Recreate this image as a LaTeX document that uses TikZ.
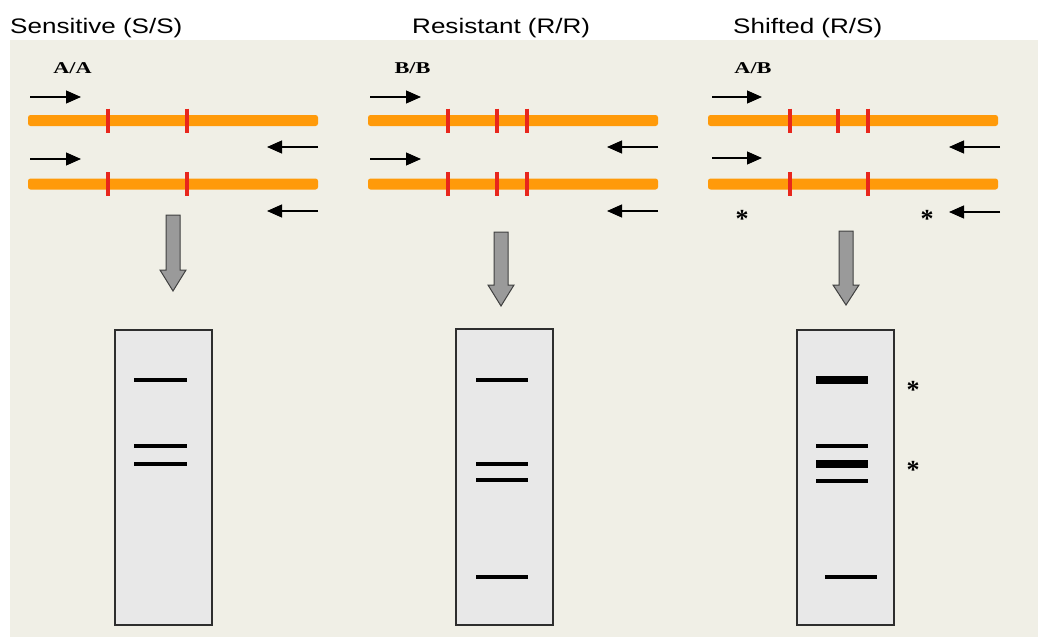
\documentclass[tikz,border=0pt]{standalone}
\usepackage{fontspec}
\setmainfont{Liberation Sans}
\newfontfamily\labelfont{Liberation Serif}
\usetikzlibrary{arrows.meta}
\definecolor{panelbg}{HTML}{F0EFE6}
\definecolor{strandorange}{HTML}{FF9A0A}
\definecolor{siteRed}{HTML}{E8261C}
\definecolor{gelfill}{HTML}{E8E8E8}
\definecolor{gelborder}{HTML}{2E2E2E}
\definecolor{blockgray}{HTML}{9A9A9A}
\tikzset{
  strand/.style={fill=strandorange, rounded corners=2.5pt},
  site/.style={draw=siteRed, line width=3.2pt},
  primer/.style={draw=black, line width=1.2pt, -{Triangle[length=15pt,width=13pt]}},
  blockarrow/.style={fill=blockgray, draw=black!75, line width=1pt, line join=miter},
  gel/.style={fill=gelfill, draw=gelborder, line width=2pt},
  band/.style={draw=black, line width=3.2pt},
  thickband/.style={draw=black, line width=8pt},
  title/.style={anchor=base west, inner sep=0pt, font=\fontsize{21}{25}\selectfont},
  genotype/.style={inner sep=0pt, font=\labelfont\bfseries\fontsize{16.5}{19}\selectfont},
  starmark/.style={anchor=base, inner sep=0pt, font=\labelfont\bfseries\fontsize{26}{28}\selectfont}
}
% one DNA strand with its cut sites: \dnastrand{y}{list of site x}
\newcommand{\dnastrand}[2]{%
  \fill[strand] (28,#1-5.5) rectangle (318,#1+5.5);
  \foreach \sx in {#2} {\draw[site] (\sx,#1-12) -- (\sx,#1+12);}
}
% block arrow pointing down: \blockdown{x}{top}{head start}{tip}
\newcommand{\blockdown}[4]{%
  \draw[blockarrow] (#1-7,#2) -- (#1+7,#2) -- (#1+7,#3) -- (#1+13,#3) -- (#1,#4)
    -- (#1-13,#3) -- (#1-7,#3) -- cycle;
}
\begin{document}
\begin{tikzpicture}[x=1pt, y=-1pt]
\useasboundingbox (0,0) rectangle (1038,637);
\fill[white] (0,0) rectangle (1038,637);
\fill[panelbg] (10,40) rectangle (1038,637);

% column headings
\node[title] (t1) at (10,33) {\scalebox{1.24}[1]{Sensitive (S/S)}};
\node[title] (t2) at (412,33) {\scalebox{1.24}[1]{Resistant (R/R)}};
\node[title] (t3) at (733,33) {\scalebox{1.24}[1]{Shifted (R/S)}};

% ---------- sensitive ----------
\begin{scope}
  \node[genotype] (g1) at (72.5,68) {\scalebox{1.35}[1]{A/A}};
  \dnastrand{120.5}{108,187}
  \dnastrand{184}{108,187}
  \coordinate (f1a) at (30,97);  \coordinate (f1b) at (81,97);
  \coordinate (f2a) at (30,159); \coordinate (f2b) at (81,159);
  \coordinate (r1a) at (318,147); \coordinate (r1b) at (267,147);
  \coordinate (r2a) at (318,211); \coordinate (r2b) at (267,211);
  \draw[primer] (f1a) -- (f1b);
  \draw[primer] (f2a) -- (f2b);
  \draw[primer] (r1a) -- (r1b);
  \draw[primer] (r2a) -- (r2b);
\end{scope}
\blockdown{173}{215}{270}{291}
\draw[gel] (115,330) rectangle (212,625);
\draw[band] (134,380) -- (187,380);
\draw[band] (134,446) -- (187,446);
\draw[band] (134,464) -- (187,464);

% ---------- resistant ----------
\begin{scope}[xshift=340pt]
  \node[genotype] (g2) at (72.5,68) {\scalebox{1.35}[1]{B/B}};
  \dnastrand{120.5}{108,157,187}
  \dnastrand{184}{108,157,187}
  \coordinate (f3a) at (30,97);  \coordinate (f3b) at (81,97);
  \coordinate (f4a) at (30,159); \coordinate (f4b) at (81,159);
  \coordinate (r3a) at (318,147); \coordinate (r3b) at (267,147);
  \coordinate (r4a) at (318,211); \coordinate (r4b) at (267,211);
  \draw[primer] (f3a) -- (f3b);
  \draw[primer] (f4a) -- (f4b);
  \draw[primer] (r3a) -- (r3b);
  \draw[primer] (r4a) -- (r4b);
\end{scope}
\blockdown{501}{232}{285}{306}
\draw[gel] (456,329) rectangle (553,625);
\draw[band] (476,380) -- (528,380);
\draw[band] (476,464) -- (528,464);
\draw[band] (476,480) -- (528,480);
\draw[band] (476,577) -- (528,577);

% ---------- shifted ----------
\begin{scope}[xshift=680pt]
  \node[genotype] (g3) at (73,68) {\scalebox{1.35}[1]{A/B}};
  \dnastrand{120.5}{110,158,188}
  \dnastrand{184}{110,188}
  \coordinate (f5a) at (32,97);  \coordinate (f5b) at (82,97);
  \coordinate (f6a) at (32,158); \coordinate (f6b) at (82,158);
  \coordinate (r5a) at (320,147); \coordinate (r5b) at (269,147);
  \coordinate (r6a) at (320,212); \coordinate (r6b) at (269,212);
  \draw[primer] (f5a) -- (f5b);
  \draw[primer] (f6a) -- (f6b);
  \draw[primer] (r5a) -- (r5b);
  \draw[primer] (r6a) -- (r6b);
  \node[starmark] (s1) at (62,227) {*};
  \node[starmark] (s2) at (247,227) {*};
\end{scope}
\blockdown{846}{231}{285}{305}
\draw[gel] (797,330) rectangle (894,625);
\draw[thickband] (816,380) -- (868,380);
\draw[band] (816,446) -- (868,446);
\draw[thickband] (816,464) -- (868,464);
\draw[band] (816,481) -- (868,481);
\draw[band] (825,577) -- (877,577);
\node[starmark] (s3) at (913,398) {*};
\node[starmark] (s4) at (913,478) {*};
\end{tikzpicture}
\end{document}
